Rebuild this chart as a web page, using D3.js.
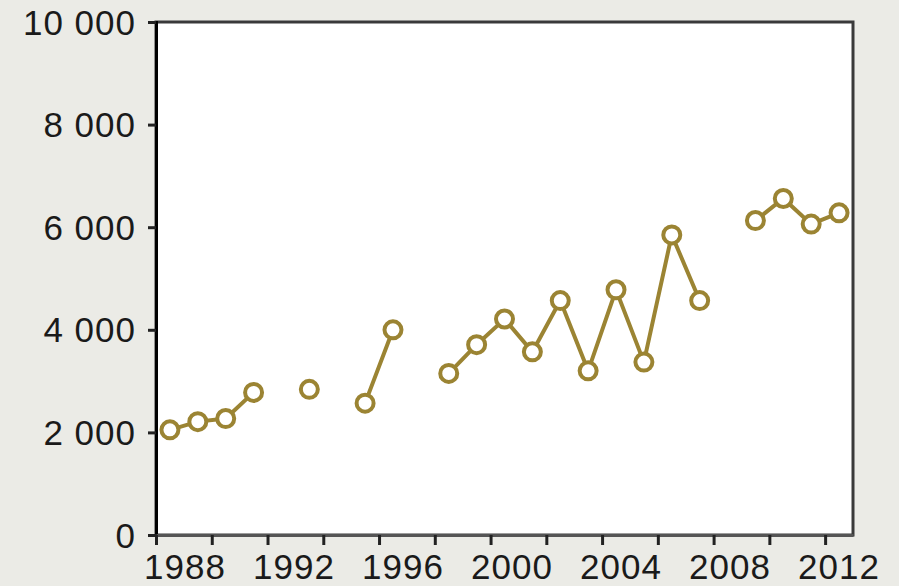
<!DOCTYPE html>
<html lang="en">
<head>
  <meta charset="UTF-8">
  <script src="https://d3js.org/d3.v7.min.js"></script>
  <title>Yearly values 1988-2012</title>
  <style>
    body { margin: 0; background: #ebebe6; }
    svg { display: block; }
    .tick-label { font-family: "Liberation Sans", Arial, sans-serif; font-size: 35px; fill: #1a1a1a; letter-spacing: 1px; }
  </style>
</head>
<body>
  <div id="wrapper"></div>
  <script>
    // data (null = no value that year)
    const years = d3.range(1988, 2013)
    const values = [2050, 2210, 2270, 2780, null, 2840, null, 2570, 4000, null,
                    3150, 3710, 4210, 3570, 4570, 3200, 4780, 3370, 5850, 4570,
                    null, 6130, 6560, 6060, 6280]
    const yTicks = [0, 2000, 4000, 6000, 8000, 10000]
    const xLabels = [1988, 1992, 1996, 2000, 2004, 2008, 2012]

    const dataset = years.map((y, i) => ({ year: y, value: values[i] }))

    const dimensions = {
      width: 899,
      height: 586,
      margin: { top: 22, right: 46, bottom: 51, left: 156 }
    }
    dimensions.boundedWidth = dimensions.width - dimensions.margin.left - dimensions.margin.right
    dimensions.boundedHeight = dimensions.height - dimensions.margin.top - dimensions.margin.bottom

    const svg = d3.select("#wrapper")
      .append("svg")
      .attr("width", dimensions.width)
      .attr("height", dimensions.height)

    svg.append("rect")
      .attr("width", dimensions.width)
      .attr("height", dimensions.height)
      .attr("fill", "#ebebe6")

    const bounds = svg.append("g")
      .attr("transform", `translate(${dimensions.margin.left},${dimensions.margin.top})`)

    // categories: each year is one slot, ticks sit between slots
    const xScale = d3.scaleLinear()
      .domain([1987.5, 2012.5])
      .range([0, dimensions.boundedWidth])

    // labels in the original drift slightly right at the left end
    const labelScale = d3.scaleLinear()
      .domain([1988, 2012])
      .range([xScale(1988) + 15, xScale(2012)])

    const yScale = d3.scaleLinear()
      .domain([0, 10000])
      .range([dimensions.boundedHeight, 0])

    // plot frame
    bounds.append("rect")
      .attr("width", dimensions.boundedWidth)
      .attr("height", dimensions.boundedHeight)
      .attr("fill", "white")
      .attr("stroke", "#3a3a3a")
      .attr("stroke-width", 3)

    // y axis
    const yAxis = bounds.append("g")
      .call(d3.axisLeft(yScale).tickValues(yTicks).tickSize(8).tickFormat(""))
    yAxis.select(".domain").attr("stroke", "#000").attr("stroke-width", 3)
    yAxis.selectAll(".tick line").attr("stroke", "#222").attr("stroke-width", 3)

    bounds.append("g")
      .selectAll("text")
      .data(yTicks)
      .join("text")
      .attr("class", "tick-label")
      .attr("x", -20)
      .attr("y", d => yScale(d))
      .attr("dy", "0.36em")
      .attr("text-anchor", "end")
      .text(d => d3.format(",")(d).replace(",", " "))

    // x axis
    const xTickVals = d3.range(1987.5, 2012, 2)
    const xAxis = bounds.append("g")
      .attr("transform", `translate(0,${dimensions.boundedHeight})`)
      .call(d3.axisBottom(xScale).tickValues(xTickVals).tickSize(10).tickFormat("").tickSizeOuter(0))
    xAxis.select(".domain").attr("stroke", "#555").attr("stroke-width", 3)
    xAxis.selectAll(".tick line").attr("stroke", "#222").attr("stroke-width", 3)

    bounds.append("g")
      .selectAll("text")
      .data(xLabels)
      .join("text")
      .attr("class", "tick-label")
      .attr("x", d => labelScale(d))
      .attr("y", dimensions.boundedHeight + 44)
      .attr("text-anchor", "middle")
      .text(d => d)

    // line with gaps for missing years
    const lineColor = "#9b8433"
    const lineGenerator = d3.line()
      .defined(d => d.value !== null)
      .x(d => xScale(d.year))
      .y(d => yScale(d.value))

    bounds.append("path")
      .datum(dataset)
      .attr("d", lineGenerator)
      .attr("fill", "none")
      .attr("stroke", lineColor)
      .attr("stroke-width", 4)

    bounds.append("g")
      .selectAll("circle")
      .data(dataset.filter(d => d.value !== null))
      .join("circle")
      .attr("cx", d => xScale(d.year))
      .attr("cy", d => yScale(d.value))
      .attr("r", 8.5)
      .attr("fill", "white")
      .attr("stroke", lineColor)
      .attr("stroke-width", 4)
  </script>
</body>
</html>
